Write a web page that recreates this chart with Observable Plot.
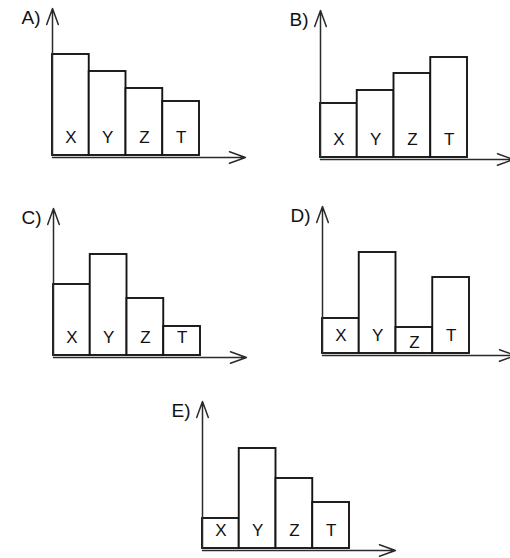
<!DOCTYPE html>
<html><head><meta charset="utf-8">
<script src="https://cdn.jsdelivr.net/npm/d3@7"></script>
<script src="https://cdn.jsdelivr.net/npm/@observablehq/plot@0.6"></script>
<style>
html,body{margin:0;padding:0;background:#fff;overflow:hidden;width:510px;height:558px}
#wrap{position:relative;width:510px;height:558px;overflow:hidden}
.panel{position:absolute;width:250px;height:170px}
.panel svg{max-width:none !important;width:250px;height:170px;display:block}
</style></head><body><div id="wrap"></div>
<script>
// Data
const categories = ["X", "Y", "Z", "T"];
const panelNames = ["A", "B", "C", "D", "E"];
const valuesA = [101, 84, 67, 54];
const valuesB = [54, 67, 84, 100];
const valuesC = [71, 101, 57, 29];
const valuesD = [35, 101, 26, 76];
const valuesE = [30, 100, 70, 46];
const yAxisMax = 147;   // length of the vertical arrow, in value units
const xAxisMax = 5.25;  // length of the horizontal arrow, in bar widths

// Layout (screen positions of each small panel)
const W = 250, H = 170, OX = 45, BASE = 155, BAR_W = 36.75;
const panelLayout = {
  A: {axisX: 52, baseY: 155},
  B: {axisX: 320, baseY: 157},
  C: {axisX: 53, baseY: 355},
  D: {axisX: 322, baseY: 353},
  E: {axisX: 202, baseY: 548}
};
const panelValues = {A: valuesA, B: valuesB, C: valuesC, D: valuesD, E: valuesE};

const font = "'Liberation Sans', Arial, Helvetica, sans-serif";
const wrap = document.getElementById("wrap");

for (const name of panelNames) {
  const vals = panelValues[name];
  const bars = categories.map((c, i) => ({c, i, v: vals[i]}));
  const labelY = d => (d.v < 28 ? d.v * 0.42 : 18);
  const svg = Plot.plot({
    width: W,
    height: H,
    margin: 0,
    style: {background: "transparent", overflow: "visible", fontFamily: font},
    x: {type: "linear", domain: [0, xAxisMax], range: [OX, OX + xAxisMax * BAR_W], axis: null},
    y: {type: "linear", domain: [0, yAxisMax], range: [BASE, BASE - yAxisMax], axis: null},
    marks: [
      Plot.rectY(bars, {x1: "i", x2: d => d.i + 1, y: "v", fill: "white", stroke: "#151515", strokeWidth: 1.9}),
      Plot.text(bars, {x: d => d.i + 0.5, y: labelY, text: "c", fontSize: 17, fill: "#111", fontFamily: font}),
      Plot.arrow([0], {x1: 0, y1: 0, x2: 0, y2: yAxisMax, stroke: "#2a2a2a", strokeWidth: 1.5, headLength: 17, headAngle: 40}),
      Plot.arrow([0], {x1: 0, y1: 0, x2: xAxisMax, y2: 0, dy: 2, stroke: "#2a2a2a", strokeWidth: 1.5, headLength: 17, headAngle: 40}),
      Plot.text([name + ")"], {x: 0, y: yAxisMax, dx: -12, dy: 9, text: d => d, textAnchor: "end", fontSize: 19, fill: "#111", fontFamily: font})
    ]
  });
  const div = document.createElement("div");
  div.className = "panel";
  div.style.left = (panelLayout[name].axisX - OX) + "px";
  div.style.top = (panelLayout[name].baseY - BASE) + "px";
  div.appendChild(svg);
  wrap.appendChild(div);
}
</script>
</body></html>
